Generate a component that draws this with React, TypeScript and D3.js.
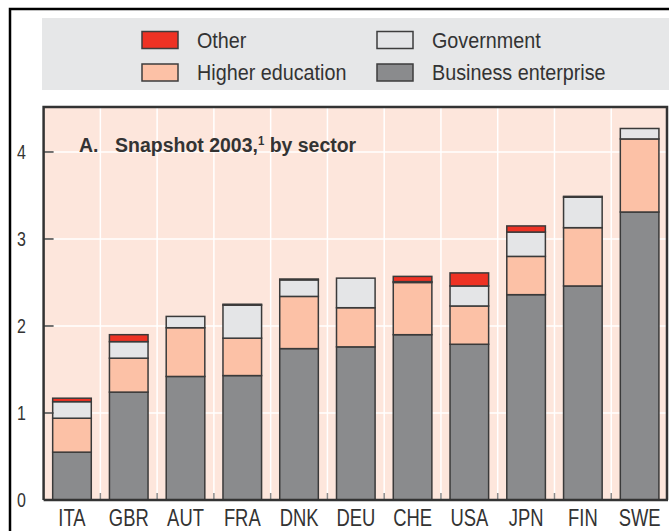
import React from "react";
import * as d3 from "d3";

const countries = ["ITA", "GBR", "AUT", "FRA", "DNK", "DEU", "CHE", "USA", "JPN", "FIN", "SWE"];
const business = [0.55, 1.24, 1.42, 1.43, 1.74, 1.76, 1.9, 1.79, 2.36, 2.46, 3.31];
const higherEd = [0.39, 0.39, 0.56, 0.43, 0.6, 0.45, 0.6, 0.44, 0.44, 0.67, 0.84];
const government = [0.19, 0.19, 0.13, 0.38, 0.19, 0.34, 0.01, 0.23, 0.28, 0.35, 0.12];
const other = [0.04, 0.08, 0.0, 0.01, 0.01, 0.0, 0.06, 0.15, 0.07, 0.01, 0.0];
const yTicks = [0, 1, 2, 3, 4];

const seriesKeys = ["business", "higherEd", "government", "other"];
const seriesColors: Record<string, string> = {
  business: "#8a8b8d",
  higherEd: "#fcc1a6",
  government: "#e4e5e7",
  other: "#ee3224",
};

const legendItems = [
  { key: "other", label: "Other", col: 0, row: 0 },
  { key: "government", label: "Government", col: 1, row: 0 },
  { key: "higherEd", label: "Higher education", col: 0, row: 1 },
  { key: "business", label: "Business enterprise", col: 1, row: 1 },
];

export default function App() {
  const W = 669;
  const H = 531;
  const plotL = 43.6;
  const plotR = 668;
  const plotT = 107;
  const plotB = 500;

  const rows = countries.map((c, i) => ({
    country: c,
    business: business[i],
    higherEd: higherEd[i],
    government: government[i],
    other: other[i],
  }));

  const stacked = d3.stack<any>().keys(seriesKeys)(rows);

  const x = d3.scaleBand<string>().domain(countries).range([plotL, plotR]).paddingInner(0).paddingOuter(0);
  const y = d3.scaleLinear().domain([0, 4.517]).range([plotB, plotT]);
  const barW = x.bandwidth() * 0.68;

  const regular = "'Liberation Sans', Arial, sans-serif";

  return (
    <svg
      width={W}
      height={H}
      style={{ position: "absolute", left: 0, top: 0, background: "#fff" }}
    >
      {/* outer frame */}
      <path d={`M10,${H} L10,9 L${W + 2},9`} fill="none" stroke="#000" strokeWidth={2.5} />
      {/* legend background */}
      <rect x={42} y={18} width={W - 42} height={72} fill="#e6e7e8" />
      {legendItems.map((it) => {
        const lx = it.col === 0 ? 142 : 377;
        const ly = it.row === 0 ? 31.5 : 64;
        return (
          <g key={it.key}>
            <rect x={lx} y={ly} width={36} height={17} fill={seriesColors[it.key]} stroke="#3d3d3d" strokeWidth={1.5} />
            <g transform={`translate(${lx + 55},${ly + 16}) scale(0.92,1)`}>
              <text x={0} y={0} fontFamily={regular} fontSize={21.5} fill="#333">
                {it.label}
              </text>
            </g>
          </g>
        );
      })}

      {/* plot background */}
      <rect x={plotL} y={plotT} width={plotR - plotL} height={plotB - plotT} fill="#fde6dc" />
      {/* gridlines */}
      {yTicks.filter((t) => t > 0).map((t) => (
        <line key={"h" + t} x1={plotL} x2={plotR} y1={y(t)} y2={y(t)} stroke="#fff" strokeWidth={1.5} />
      ))}
      {countries.slice(1).map((c) => (
        <line key={"v" + c} x1={x(c)!} x2={x(c)!} y1={plotT} y2={plotB} stroke="#fff" strokeWidth={1.5} />
      ))}

      {/* title */}
      <g transform="translate(79,152) scale(0.95,1)">
        <text x={0} y={0} fontFamily={regular} fontWeight="bold" fontSize={20.5} fill="#333">
          A.
          <tspan x={38}>Snapshot 2003,</tspan>
          <tspan dy={-7} fontSize={12}>1</tspan>
          <tspan dy={7}> by sector</tspan>
        </text>
      </g>

      {/* bars */}
      {stacked.map((s) =>
        s.map((d: any, i: number) => {
          const h = y(d[0]) - y(d[1]);
          if (h <= 0) return null;
          const cx = x(countries[i])! + x.bandwidth() / 2;
          return (
            <rect
              key={s.key + i}
              x={cx - barW / 2}
              y={y(d[1])}
              width={barW}
              height={h}
              fill={seriesColors[s.key]}
              stroke="#3a3a3a"
              strokeWidth={1.5}
            />
          );
        })
      )}

      {/* category ticks */}
      {countries.slice(1).map((c) => (
        <line key={"ct" + c} x1={x(c)!} x2={x(c)!} y1={plotB} y2={plotB - 7} stroke="#8a8a8a" strokeWidth={1.5} />
      ))}

      {/* y tick marks */}
      {yTicks.filter((t) => t > 0).map((t) => (
        <line key={"yt" + t} x1={plotL} x2={plotL + 10} y1={y(t)} y2={y(t)} stroke="#444" strokeWidth={1.5} />
      ))}

      {/* plot border */}
      <path
        d={`M${plotL},${plotB} L${plotL},${plotT} L${plotR - 1},${plotT} L${plotR - 1},${plotB}`}
        fill="none"
        stroke="#333"
        strokeWidth={2.5}
      />
      <line x1={plotL} x2={plotR} y1={plotB} y2={plotB} stroke="#333" strokeWidth={2.5} />

      {/* y labels */}
      {yTicks.map((t) => (
        <g key={"yl" + t} transform={`translate(26,${y(t) + 7}) scale(0.82,1)`}>
          <text x={0} y={0} textAnchor="end" fontFamily={regular} fontSize={19.5} fill="#333">
            {t}
          </text>
        </g>
      ))}

      {/* x labels */}
      {countries.map((c) => (
        <g key={"xl" + c} transform={`translate(${x(c)! + x.bandwidth() / 2},526) scale(0.8,1)`}>
          <text x={0} y={0} textAnchor="middle" fontFamily={regular} fontSize={23} fill="#333">
            {c}
          </text>
        </g>
      ))}
    </svg>
  );
}
